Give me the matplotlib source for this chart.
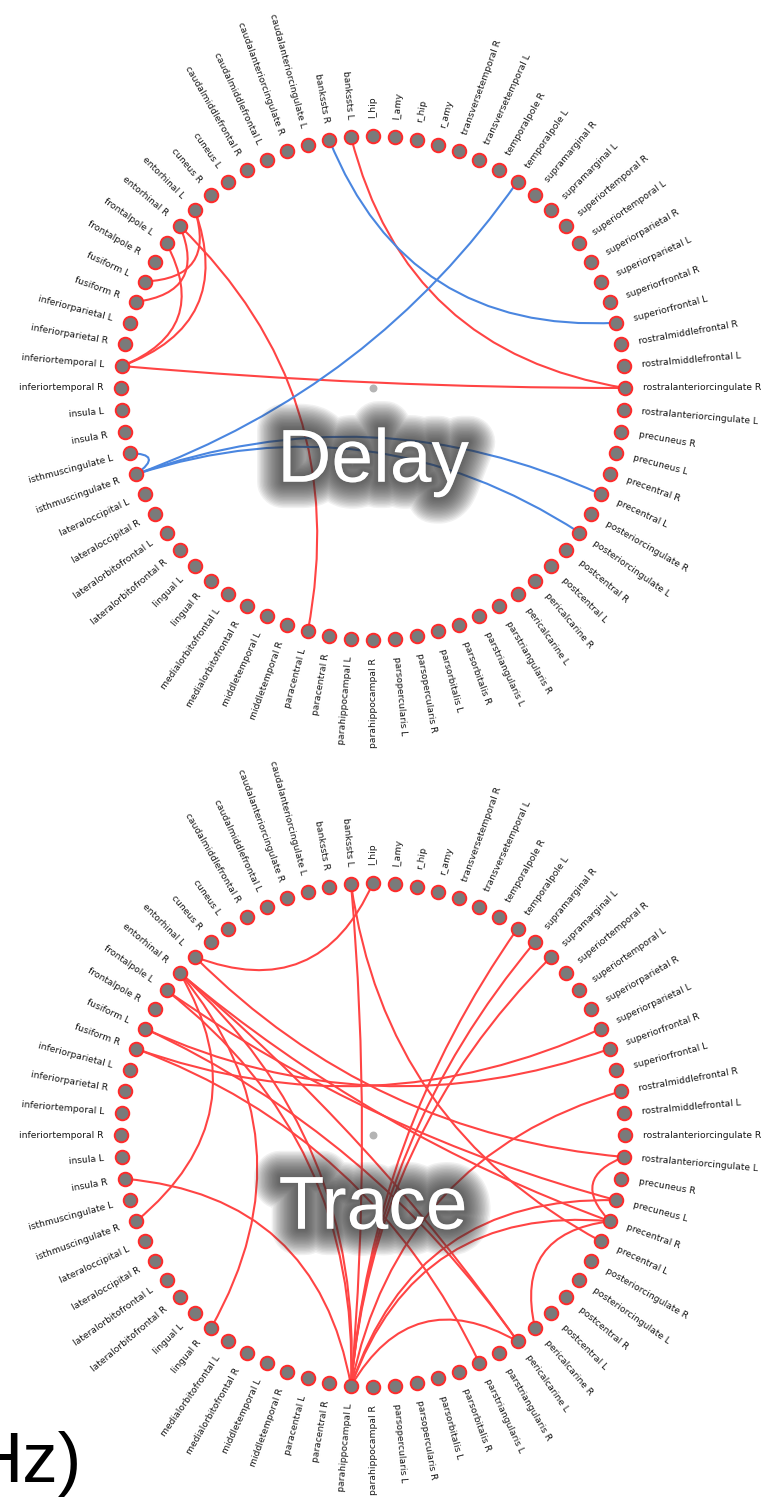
import numpy as np
import matplotlib.pyplot as plt
import matplotlib.patheffects as pe
from matplotlib.path import Path
from matplotlib.patches import PathPatch

# node names: 34 cortical regions (L/R) + 4 subcortical, counter-clockwise from 95 deg
regions = ["bankssts", "caudalanteriorcingulate", "caudalmiddlefrontal", "cuneus",
           "entorhinal", "frontalpole", "fusiform", "inferiorparietal",
           "inferiortemporal", "insula", "isthmuscingulate", "lateraloccipital",
           "lateralorbitofrontal", "lingual", "medialorbitofrontal", "middletemporal",
           "paracentral", "parahippocampal", "parsopercularis", "parsorbitalis",
           "parstriangularis", "pericalcarine", "postcentral", "posteriorcingulate",
           "precentral", "precuneus", "rostralanteriorcingulate", "rostralmiddlefrontal",
           "superiorfrontal", "superiorparietal", "superiortemporal", "supramarginal",
           "temporalpole", "transversetemporal"]
subcortical = ["r_amy", "r_hip", "l_amy", "l_hip"]
nodes = [r + " " + h for r in regions for h in ("L", "R")] + subcortical

delay_red = [("bankssts L", "rostralanteriorcingulate R"),
             ("inferiortemporal L", "rostralanteriorcingulate R"),
             ("entorhinal L", "fusiform L"),
             ("entorhinal L", "inferiortemporal L"),
             ("entorhinal R", "fusiform R"),
             ("entorhinal R", "paracentral L"),
             ("frontalpole L", "inferiortemporal L")]
delay_blue = [("bankssts R", "superiorfrontal L"),
              ("isthmuscingulate R", "temporalpole L"),
              ("isthmuscingulate L", "isthmuscingulate R"),
              ("isthmuscingulate R", "precentral L"),
              ("isthmuscingulate R", "posteriorcingulate L")]
trace_red = [("l_hip", "entorhinal L"),
             ("bankssts L", "parahippocampal L"),
             ("bankssts L", "precentral L"),
             ("entorhinal L", "rostralanteriorcingulate L"),
             ("entorhinal R", "isthmuscingulate R"),
             ("entorhinal R", "lingual R"),
             ("entorhinal R", "pericalcarine L"),
             ("entorhinal R", "precentral R"),
             ("entorhinal R", "parahippocampal L"),
             ("frontalpole L", "precuneus L"),
             ("fusiform L", "superiorfrontal R"),
             ("fusiform L", "pericalcarine L"),
             ("fusiform R", "superiorparietal L"),
             ("fusiform R", "parstriangularis L"),
             ("insula R", "parahippocampal L"),
             ("parahippocampal L", "temporalpole L"),
             ("parahippocampal L", "supramarginal R"),
             ("parahippocampal L", "supramarginal L"),
             ("parahippocampal L", "rostralmiddlefrontal R"),
             ("parahippocampal L", "precuneus L"),
             ("parahippocampal L", "precentral R"),
             ("parahippocampal L", "pericalcarine L"),
             ("parahippocampal L", "frontalpole L"),
             ("rostralanteriorcingulate L", "precentral R"),
             ("pericalcarine R", "precentral R")]

RED = "#ff4444"
BLUE = "#4a86e0"

ang = 95 + 5 * np.arange(len(nodes))
pos = {n: np.array([np.cos(np.deg2rad(a)), np.sin(np.deg2rad(a))]) for n, a in zip(nodes, ang)}


def draw_edge(ax, a, b, color):
    p0, p2 = pos[a], pos[b]
    d = abs(nodes.index(a) - nodes.index(b)) * 5
    d = min(d, 360 - d)
    k = max(0.0, 0.9 - 0.0065 * d)
    c = k * (p0 + p2) / 2
    path = Path([p0, c, p2], [Path.MOVETO, Path.CURVE3, Path.CURVE3])
    ax.add_patch(PathPatch(path, fc="none", ec=color, lw=1.5, zorder=2))


def draw_circle(ax, red, blue, title):
    for a, b in red:
        draw_edge(ax, a, b, RED)
    for a, b in blue:
        draw_edge(ax, a, b, BLUE)
    xy = np.array([pos[n] for n in nodes])
    ax.scatter(xy[:, 0], xy[:, 1], s=95, c="#7a7a7a", edgecolors="#ff2a2a",
               linewidths=1.4, zorder=3)
    ax.scatter([0], [0], s=22, c="#b4b4b4", zorder=1)
    for n, a in zip(nodes, ang):
        a = a % 360
        r = 1.07
        x, y = r * np.cos(np.deg2rad(a)), r * np.sin(np.deg2rad(a))
        if a <= 90 or a > 270:
            rot, ha = (a if a <= 90 else a - 360), "left"
        else:
            rot, ha = a - 180, "right"
        ax.text(x, y, n, rotation=rot, ha=ha, va="center", rotation_mode="anchor",
                fontsize=6.6, color="#151515")
    glow = [pe.Stroke(linewidth=w, foreground="#333333", alpha=0.065)
            for w in range(38, 0, -2)] + [pe.Normal()]
    ax.text(0, -0.372, title, ha="center", va="baseline", fontsize=54,
            family="Liberation Sans", color="white", zorder=5, path_effects=glow)
    ax.axis("off")


fig = plt.figure(figsize=(7.69, 15), dpi=100)
R = 252.0
ax1 = fig.add_axes([0, 0.5, 1, 0.5])
ax1.set_xlim(-373 / R, 396 / R)
ax1.set_ylim(-(750 - 388) / R, 388 / R)
draw_circle(ax1, delay_red, delay_blue, "Delay")

ax2 = fig.add_axes([0, 0, 1, 0.5])
ax2.set_xlim(-373 / R, 396 / R)
ax2.set_ylim(-(750 - 385) / R, 385 / R)
draw_circle(ax2, trace_red, [], "Trace")

fig.text(-29 / 769, 1 - 1482 / 1500, "Hz)", fontsize=51, family="Liberation Sans",
         ha="left", va="baseline", color="black")

fig.savefig("out.png", dpi=100)
